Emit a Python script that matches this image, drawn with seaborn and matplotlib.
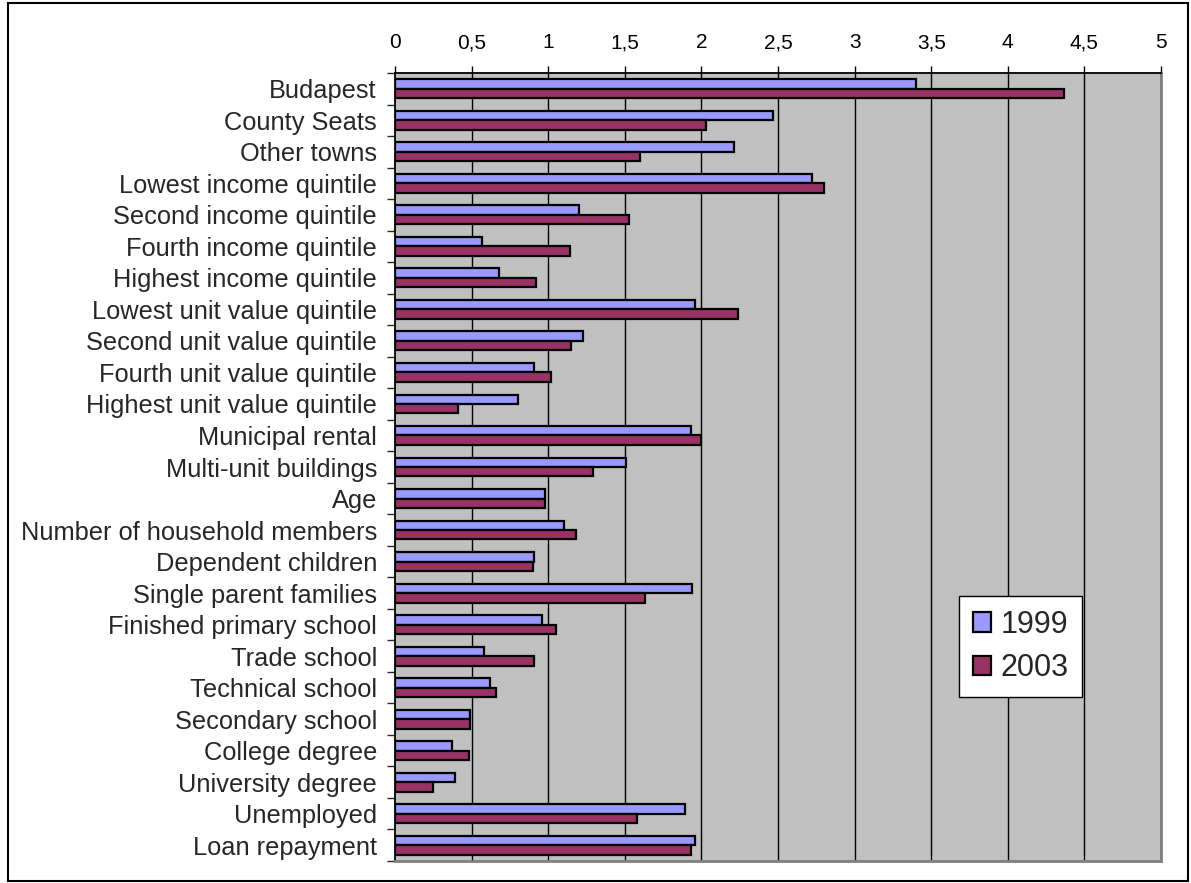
import pandas as pd
import matplotlib.pyplot as plt
import seaborn as sns

categories = [
    "Budapest", "County Seats", "Other towns", "Lowest income quintile",
    "Second income quintile", "Fourth income quintile", "Highest income quintile",
    "Lowest unit value quintile", "Second unit value quintile",
    "Fourth unit value quintile", "Highest unit value quintile",
    "Municipal rental", "Multi-unit buildings", "Age",
    "Number of household members", "Dependent children",
    "Single parent families", "Finished primary school", "Trade school",
    "Technical school", "Secondary school", "College degree",
    "University degree", "Unemployed", "Loan repayment",
]
v1999 = [3.40, 2.47, 2.21, 2.72, 1.20, 0.57, 0.68, 1.96, 1.23, 0.91, 0.80,
         1.93, 1.51, 0.98, 1.10, 0.91, 1.94, 0.96, 0.58, 0.62, 0.49, 0.37,
         0.39, 1.89, 1.96]
v2003 = [4.37, 2.03, 1.60, 2.80, 1.53, 1.14, 0.92, 2.24, 1.15, 1.02, 0.41,
         2.00, 1.29, 0.98, 1.18, 0.90, 1.63, 1.05, 0.91, 0.66, 0.49, 0.48,
         0.25, 1.58, 1.93]
years = ["1999", "2003"]
xticks = [0, 0.5, 1, 1.5, 2, 2.5, 3, 3.5, 4, 4.5, 5]
xticklabels = ["0", "0,5", "1", "1,5", "2", "2,5", "3", "3,5", "4", "4,5", "5"]

n = len(categories)
df = pd.DataFrame({
    "category": categories * 2,
    "value": v1999 + v2003,
    "year": [years[0]] * n + [years[1]] * n,
})

sns.set_style("white")
plt.rcParams["font.family"] = ["Liberation Sans", "DejaVu Sans"]

fig = plt.figure(figsize=(11.91, 8.83), dpi=100)
ax = fig.add_axes([395 / 1191, 1 - 861 / 883, (1161 - 395) / 1191, (861 - 73) / 883])
ax.set_facecolor("#C0C0C0")

# barre orizzontali, 1999 sopra e 2003 sotto
sns.barplot(data=df, y="category", x="value", hue="year", orient="h",
            palette={"1999": "#9999FF", "2003": "#993366"}, width=0.6,
            edgecolor="black", linewidth=1.6, saturation=1, ax=ax, zorder=3)

ax.set_xlim(0, 5)
ax.set_ylim(n - 0.5, -0.5)
for x in xticks[1:]:
    ax.axvline(x, color="black", lw=1, zorder=1)

ax.xaxis.tick_top()
ax.set_xticks(xticks)
ax.set_xticklabels(xticklabels)
ax.tick_params(axis="x", top=True, bottom=False, direction="out", length=5,
               width=1, pad=10, labelsize=15, colors="black")
ax.tick_params(axis="y", which="major", left=False, length=0, pad=13, labelsize=18.3)
ax.set_yticks([i + 0.5 for i in range(-1, n)], minor=True)
ax.tick_params(axis="y", which="minor", left=True, direction="out", length=6, width=1)
ax.set_xlabel("")
ax.set_ylabel("")

for side in ["top", "left"]:
    ax.spines[side].set_color("black")
    ax.spines[side].set_linewidth(1.3)
for side in ["right", "bottom"]:
    ax.spines[side].set_color("#808080")
    ax.spines[side].set_linewidth(2)

leg = ax.legend(loc="upper left", bbox_to_anchor=(959 / 1191, 1 - 596 / 883),
                bbox_transform=fig.transFigure, frameon=True, fancybox=False,
                fontsize=22, handlelength=0.6, handleheight=0.6, handletextpad=0.3,
                labelspacing=0.45, borderpad=0.45, borderaxespad=0)
leg.get_frame().set_edgecolor("black")
leg.get_frame().set_linewidth(1)
leg.get_frame().set_facecolor("white")
leg.get_frame().set_alpha(1)

# cornice esterna
fig.patches.append(plt.Rectangle((8 / 1191, 2 / 883), 1180 / 1191, 878 / 883,
                                 transform=fig.transFigure, fill=False,
                                 edgecolor="black", lw=1.5))

fig.savefig("out.png", dpi=100)
